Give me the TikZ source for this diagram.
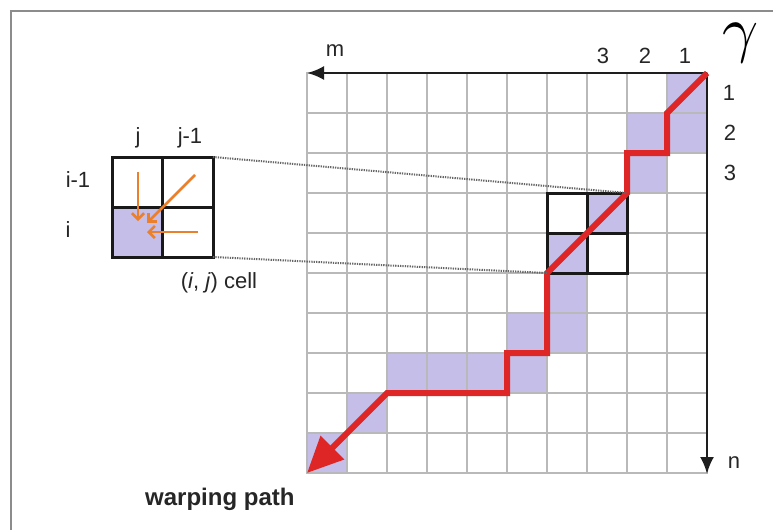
\documentclass[tikz,border=0pt]{standalone}
\usepackage{fontspec}
\setmainfont{Liberation Sans}
\usetikzlibrary{arrows.meta}
\definecolor{cellfill}{RGB}{196,190,232}
\definecolor{pathred}{RGB}{222,38,38}
\definecolor{gridgray}{RGB}{185,185,185}
\definecolor{arroworange}{RGB}{234,128,44}
\definecolor{framegray}{RGB}{140,140,140}
\definecolor{axisblack}{RGB}{30,30,30}
\begin{document}
\begin{tikzpicture}[x=1pt,y=-1pt,
  lbl/.style={font=\fontsize{22}{24}\selectfont, inner sep=0pt, text=black!85},
  gridline/.style={draw=gridgray, line width=1.3pt},
  boxline/.style={draw=black!90, line width=3pt},
  axisline/.style={draw=axisblack, line width=2.6pt, -{Latex[length=17pt,width=14pt]}},
  redpath/.style={draw=pathred, line width=6pt, -{Triangle[length=36pt,width=32pt]}},
  orangearrow/.style={draw=arroworange, line width=2.6pt, -{Straight Barb[length=6pt,width=12pt]}},
  dotline/.style={draw=black!60, line width=2pt, dash pattern=on 1.3pt off 1.1pt}]
\useasboundingbox (0,0) rectangle (773,530);
\fill[white] (0,0) rectangle (773,530);

% outer frame
\draw[framegray, line width=2pt] (11,530) -- (11,11) -- (773,11);

% shaded cells along the warping path (row, column counted from top-right)
\foreach \r/\c in {1/1,2/1,2/2,3/2,4/3,5/4,6/4,7/4,7/5,8/5,8/6,8/7,8/8,9/9,10/10}
  \fill[cellfill] ({707-40*\c},{73+40*(\r-1)}) rectangle ++(40,40);

% cost matrix grid
\draw[gridline] (307,73) rectangle (707,473);
\foreach \k in {1,...,9} {
  \draw[gridline] ({307+40*\k},73) -- ({307+40*\k},473);
  \draw[gridline] (307,{73+40*\k}) -- (707,{73+40*\k});
}

% highlighted 2x2 block in the matrix
\coordinate (gTL) at (547,193);
\coordinate (gTR) at (627,193);
\coordinate (gBL) at (547,273);
\coordinate (gBR) at (627,273);
\draw[boxline] (gTL) rectangle (gBR);
\draw[boxline] (587,193) -- (587,273);
\draw[boxline] (547,233) -- (627,233);

% axes
\coordinate (origin) at (707,73);
\coordinate (mEnd) at (307,73);
\coordinate (nEnd) at (707,474);
\draw[axisline] (origin) -- (mEnd);
\draw[axisline] (origin) -- (nEnd);

% warping path
\coordinate (p0) at (707,73);
\coordinate (p1) at (667,113);
\coordinate (p2) at (667,153);
\coordinate (p3) at (627,153);
\coordinate (p4) at (627,193);
\coordinate (p5) at (547,273);
\coordinate (p6) at (547,353);
\coordinate (p7) at (507,353);
\coordinate (p8) at (507,393);
\coordinate (p9) at (387,393);
\coordinate (p10) at (307,473);
\draw[redpath] (p0) -- (p1) -- (p2) -- (p3) -- (p4) -- (p5) -- (p6) -- (p7) -- (p8) -- (p9) -- (p10);

% enlarged (i,j) cell
\coordinate (inTL) at (112,157);
\coordinate (inTR) at (213,157);
\coordinate (inBR) at (213,257);
\fill[cellfill] (112,207) rectangle (162,257);
\draw[boxline] (inTL) rectangle (inBR);
\draw[boxline] (162,157) -- (162,257);
\draw[boxline] (112,207) -- (213,207);

% zoom guides
\draw[dotline] (inTR) -- (gTR);
\draw[dotline] (inBR) -- (gBL);

% allowed steps into cell (i,j)
\coordinate (a1s) at (138,172);
\coordinate (a1e) at (138,221);
\coordinate (a2s) at (195,175);
\coordinate (a2e) at (147,223);
\coordinate (a3s) at (198,232);
\coordinate (a3e) at (147,232);
\draw[orangearrow] (a1s) -- (a1e);
\draw[orangearrow] (a2s) -- (a2e);
\draw[orangearrow] (a3s) -- (a3e);

% labels
\node[lbl] (lm) at (335,51) {m};
\node[lbl, anchor=base] (c3) at (603,63) {3};
\node[lbl, anchor=base] (c2) at (645,63) {2};
\node[lbl, anchor=base] (c1) at (685,63) {1};
\node[inner sep=0pt, scale=6.3] (gam) at (741,43) {$\gamma$};
\node[lbl, anchor=base] (r1) at (729,100) {1};
\node[lbl, anchor=base] (r2) at (730,140) {2};
\node[lbl, anchor=base] (r3) at (730,180) {3};
\node[lbl] (ln) at (734,463) {n};

\node[lbl, anchor=base] (lj) at (138,143) {j};
\node[lbl, anchor=base] (lj1) at (190,143) {j-1};
\node[lbl, anchor=base] (li1) at (78,187) {i-1};
\node[lbl, anchor=base] (li) at (68,237) {i};
\node[lbl] (cell) at (219,283) {(\textit{i}, \textit{j}) cell};

\node[inner sep=0pt, anchor=base west, font=\fontsize{24}{26}\selectfont\bfseries, text=black!85] (wp) at (145,505) {warping path};
\end{tikzpicture}
\end{document}
